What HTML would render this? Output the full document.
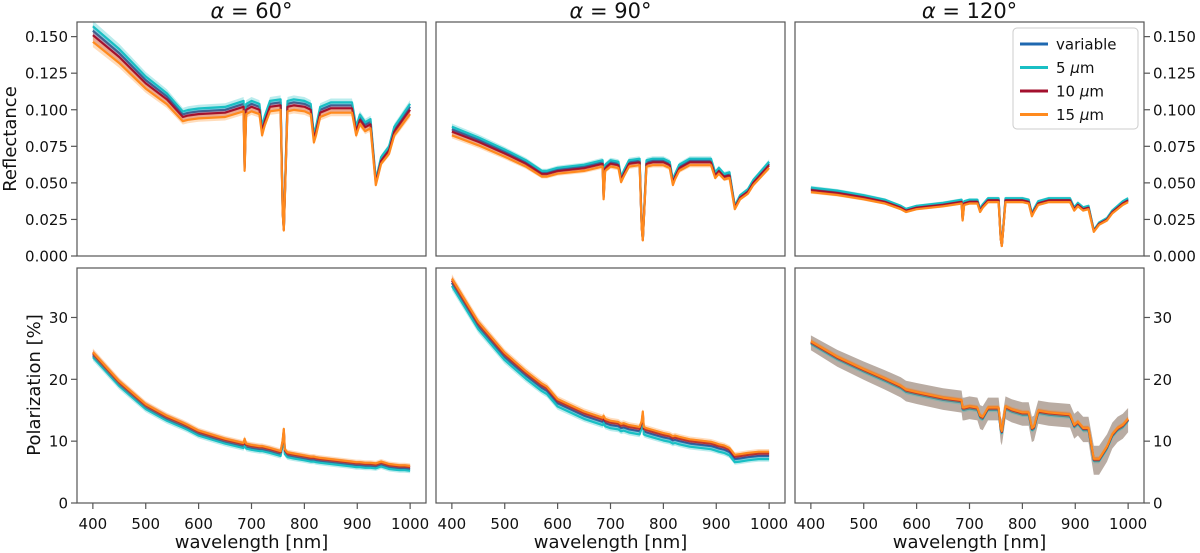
<!DOCTYPE html>
<html><head><meta charset="utf-8">
<style>
html,body{margin:0;padding:0;background:#fff;}
svg{display:block;font-family:"DejaVu Sans","Liberation Sans",sans-serif;}
</style></head>
<body>
<svg id="fig" width="1200" height="553" viewBox="0 0 1200 553" xmlns="http://www.w3.org/2000/svg"></svg>
<script>
const wavelengths = [400,450,500,540,570,580,600,650,685,687,690,700,715,720,725,735,755,759,761,763,768,780,800,812,818,822,830,850,890,898,905,915,925,935,945,960,970,980,990,1000];
const refl60 = [0.151,0.136,0.118,0.107,0.095,0.096,0.097,0.098,0.102,0.060,0.100,0.102,0.100,0.085,0.092,0.102,0.103,0.030,0.018,0.040,0.102,0.103,0.102,0.100,0.080,0.085,0.098,0.101,0.101,0.085,0.093,0.088,0.090,0.050,0.065,0.072,0.085,0.090,0.095,0.100];
const refl90 = [0.085,0.078,0.070,0.063,0.056,0.056,0.058,0.060,0.063,0.040,0.060,0.063,0.062,0.052,0.056,0.063,0.064,0.020,0.011,0.025,0.063,0.064,0.064,0.062,0.050,0.054,0.060,0.064,0.064,0.055,0.058,0.054,0.055,0.033,0.040,0.044,0.050,0.054,0.058,0.062];
const refl120 = [0.045,0.043,0.040,0.037,0.033,0.031,0.033,0.035,0.037,0.025,0.036,0.037,0.037,0.031,0.034,0.038,0.038,0.012,0.007,0.015,0.038,0.038,0.038,0.037,0.028,0.031,0.036,0.038,0.038,0.032,0.035,0.032,0.033,0.017,0.022,0.025,0.030,0.033,0.036,0.038];
const pol60 = [24.2,19.5,15.8,13.9,12.8,12.4,11.5,10.2,9.5,10.2,9.4,9.2,9.0,9.0,8.9,8.7,8.2,10.0,11.8,8.5,8.0,7.8,7.5,7.3,7.3,7.2,7.1,6.9,6.5,6.4,6.4,6.3,6.3,6.2,6.5,6.1,6.0,5.9,5.9,5.8];
const pol90 = [36,29,24,21,19,18.5,16.5,14.5,13.5,13.8,13.3,13,12.8,12.5,12.6,12.3,12,13,14.5,12,11.8,11.5,11,10.8,10.5,10.6,10.4,10,9.6,9.4,9.2,9,8.6,7.5,7.6,7.8,7.9,8,8,8];
const pol120 = [26,23.5,21.5,20,18.8,18.2,17.8,16.9,16.5,15.3,15.3,15.5,15.3,14,13.8,15.3,15.3,12,11.5,12.5,15.5,15,14.5,14.5,12,12.2,14.8,14.5,14.2,12.5,13,12,12,7,7,9,11,12,12.5,13.5];
const seriesNames = ["variable","5 μm","10 μm","15 μm"];
const seriesColors = ["#1f68b0","#19bfc4","#a3102e","#ff8a1e"];
const reflScale = [1.02,1.04,1.0,0.97];
const polShift60 = [-0.3,-0.6,0,0.2];
const polShift90 = [-0.4,-0.9,0,0.3];
const polShift120 = [-0.1,-0.2,0,0.15];
const xTicks = [400,500,600,700,800,900,1000];
const reflTicks = [0,0.025,0.05,0.075,0.1,0.125,0.15];
const reflTickLabels = ["0.000","0.025","0.050","0.075","0.100","0.125","0.150"];
const polTicks = [0,10,20,30];

const NS="http://www.w3.org/2000/svg";
const svg=document.getElementById('fig');
function mk(tag,attrs,parent){const e=document.createElementNS(NS,tag);for(const k in attrs)e.setAttribute(k,attrs[k]);(parent||svg).appendChild(e);return e;}

const colX=[77,436,795], W=349;
const rowY=[22,268], H=[234,235];
const xMin=370,xMax=1030;
function xs(c,w){return colX[c]+(w-xMin)/(xMax-xMin)*W;}
function ysR(v){return rowY[0]+H[0]-v/0.16*H[0];}
function ysP(v){return rowY[1]+H[1]-v/38*H[1];}

const reflData=[refl60,refl90,refl120];
const polData=[pol60,pol90,pol120];
const polShifts=[polShift60,polShift90,polShift120];

for(let c=0;c<3;c++){
  for(let r=0;r<2;r++){
    const g=mk('g',{});
    
    
    const ys=r===0?ysR:ysP;
    for(let s=0;s<4;s++){
      let vals, band;
      if(r===0){vals=reflData[c].map(v=>v*reflScale[s]);band=vals.map(v=>v*0.025);}
      else{vals=polData[c].map(v=>v+polShifts[c][s]);band=vals.map(v=>c===2?(s===0?1.2+(26-v)*0.06:0.4):0.35+v*0.01);}
      let up='',dn='';
      wavelengths.forEach((w,i)=>{up+=(i?'L':'M')+xs(c,w).toFixed(1)+','+ys(vals[i]+band[i]).toFixed(1);});
      for(let i=wavelengths.length-1;i>=0;i--){dn+='L'+xs(c,wavelengths[i]).toFixed(1)+','+ys(vals[i]-band[i]).toFixed(1);}
      const grey=(r===1&&c===2&&s===0);
      const b=mk('path',{d:up+dn+'Z',fill:grey?'#8a7466':seriesColors[s],'fill-opacity':grey?0.6:0.3,stroke:'none'},g);
      
      
      let d='';
      wavelengths.forEach((w,i)=>{d+=(i?'L':'M')+xs(c,w).toFixed(1)+','+ys(vals[i]).toFixed(1);});
      const l=mk('path',{d:d,fill:'none',stroke:seriesColors[s],'stroke-width':2.2,'stroke-linejoin':'round'},g);
      
      
    }
    const fr=mk('rect',{x:colX[c],y:rowY[r],width:W,height:H[r],fill:'none',stroke:'#555','stroke-width':1.2},g);
    
    
    if(r===1){
      xTicks.forEach(t=>{
        const x=xs(c,t);
        mk('line',{x1:x,x2:x,y1:rowY[1]+H[1],y2:rowY[1]+H[1]+6,stroke:'#555','stroke-width':1.2},g);
        const tl=mk('text',{x:x,y:529,'text-anchor':'middle','font-size':15,fill:'#111'},g);
        tl.textContent=t;
        
        
      });
      const xl=mk('text',{x:colX[c]+W/2,y:548,'text-anchor':'middle','font-size':18,fill:'#111'},g);
      xl.textContent='wavelength [nm]';
      
      
    }
    if(c!==1){
      const ticks=r===0?reflTicks:polTicks;
      ticks.forEach((t,i)=>{
        const y=ys(t);
        const x0=c===0?colX[0]:colX[2]+W;
        const dx=c===0?-6:6;
        mk('line',{x1:x0,x2:x0+dx,y1:y,y2:y,stroke:'#555','stroke-width':1.2},g);
        const lab=r===0?reflTickLabels[i]:String(t);
        const tl=mk('text',{x:c===0?x0-9:x0+9,y:y+5.5,'text-anchor':c===0?'end':'start','font-size':15,fill:'#111'},g);
        tl.textContent=lab;
        
        
      });
    }
  }
  const tt=mk('text',{x:colX[c]+W/2,y:18,'text-anchor':'middle','font-size':21,fill:'#111'});
  tt.innerHTML='<tspan font-style="italic">α</tspan> = '+[60,90,120][c]+'°';
  
  
}
const yl1=mk('text',{x:0,y:0,transform:'translate(16,139) rotate(-90)','text-anchor':'middle','font-size':18,fill:'#111'});
yl1.textContent='Reflectance';


const yl2=mk('text',{x:0,y:0,transform:'translate(40,385) rotate(-90)','text-anchor':'middle','font-size':18,fill:'#111'});
yl2.textContent='Polarization [%]';



const lg=mk('g',{});


mk('rect',{x:1013,y:28,width:125,height:101,rx:4,fill:'#fff',stroke:'#ccc','stroke-width':1},lg);
seriesNames.forEach((n,i)=>{
  const y=44+i*23.5;
  const sw=mk('line',{x1:1020,x2:1048,y1:y,y2:y,stroke:seriesColors[i],'stroke-width':3},lg);
  
  
  const t=mk('text',{x:1056,y:y+5.5,'font-size':15,fill:'#111'},lg);
  t.innerHTML=n.includes('μm')?n.replace(' μm','')+' <tspan font-style="italic">μ</tspan>m':n;
  
  
});
</script>
</body></html>
